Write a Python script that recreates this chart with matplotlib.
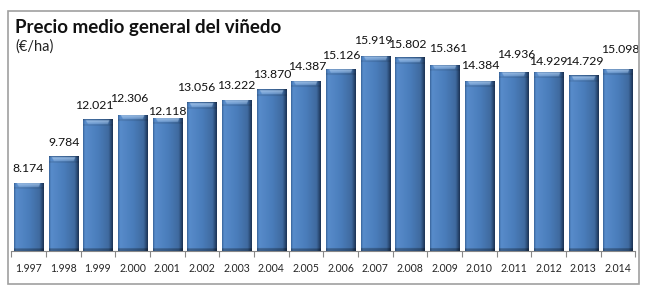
import numpy as np
import matplotlib
matplotlib.use("Agg")
import matplotlib.pyplot as plt
from matplotlib.patches import Rectangle

years = ["1.997", "1.998", "1.999", "2.000", "2.001", "2.002", "2.003", "2.004", "2.005",
         "2.006", "2.007", "2.008", "2.009", "2.010", "2.011", "2.012", "2.013", "2.014"]
precio = [8174, 9784, 12021, 12306, 12118, 13056, 13222, 13870, 14387,
          15126, 15919, 15802, 15361, 14384, 14936, 14929, 14729, 15098]
etiquetas = ["8.174", "9.784", "12.021", "12.306", "12.118", "13.056", "13.222", "13.870", "14.387",
             "15.126", "15.919", "15.802", "15.361", "14.384", "14.936", "14.929", "14.729", "15.098"]

# desplazamiento de las etiquetas (px), como las coloca Excel
lab_dx = [0, 1, -4, -3, 0, -6, 0, 1, 1, 1, -2, -3, 4, 1, 2, 0, 1, 2]
lab_dy = [14, 14, 14, 16, 6, 15, 14, 15, 14, 13, 15, 13, 16, 15, 17, 10, 14, 19]

plt.rcParams['font.family'] = ['Lato', 'DejaVu Sans']

fig = plt.figure(figsize=(6.5, 2.93), dpi=100)
ax = fig.add_axes([11.2 / 650, 42 / 293, 624 / 650, 229.6 / 293])

x = np.arange(len(years))
bars = ax.bar(x, precio, width=0.84, color='#4f81bd', edgecolor='none', zorder=2)
ax.set_xlim(-0.5, len(years) - 0.5)
ax.set_ylim(4000, 18000)

# sombreado tipo bisel
fig.canvas.draw()
px_per_unit = ax.bbox.height / (18000 - 4000)
bevel = 5 / px_per_unit
nx = 60
gx = np.linspace(0, 1, nx)
c_left = np.array([0x3a, 0x66, 0x9c]) / 255
c_mid = np.array([0x58, 0x8c, 0xcb]) / 255
c_body = np.array([0x4a, 0x7d, 0xbb]) / 255
c_right = np.array([0x1c, 0x33, 0x55]) / 255
cols = np.zeros((nx, 3))
for i, g in enumerate(gx):
    if g < 0.06:
        cols[i] = c_left + (c_mid - c_left) * (g / 0.06)
    elif g < 0.5:
        cols[i] = c_mid + (c_body - c_mid) * ((g - 0.06) / 0.44)
    elif g < 0.86:
        cols[i] = c_body + (c_body * 0.85 - c_body) * ((g - 0.5) / 0.36)
    else:
        cols[i] = c_body * 0.85 + (c_right - c_body * 0.85) * ((g - 0.86) / 0.14)
light = np.array([0.72, 0.83, 0.95])
for b in bars:
    x0, w, h = b.get_x(), b.get_width(), b.get_height()
    y0 = 4000
    hh = h - y0
    ny = 400
    yy = np.linspace(0, hh, ny)[:, None] * np.ones((1, nx))  # distancia desde arriba
    gxx = np.ones((ny, 1)) * gx[None, :]
    img = np.ones((ny, 1, 1)) * cols[None, :, :]
    # borde superior oscuro y bisel claro
    rim = yy < bevel * 0.2
    img[rim] = img[rim] * 0.8
    band = (yy >= bevel * 0.2) & (yy < bevel) & (gxx > 0.07 + 0.09 * (yy / bevel)) & \
           (gxx < 0.9 - 0.07 * (yy / bevel))
    t = (yy / bevel)[band]
    img[band] = img[band] * (0.15 + 0.6 * t[:, None]) + light * (0.85 - 0.6 * t[:, None])
    under = (yy >= bevel) & (yy < bevel * 1.3)
    img[under] = img[under] * 0.88
    bottom = yy > hh - bevel * 0.5
    img[bottom] = img[bottom] * 0.7
    img = np.clip(img, 0, 1)
    im = ax.imshow(img, extent=[x0, x0 + w, y0, h], aspect='auto', zorder=3,
                   interpolation='bilinear')
    im.set_clip_path(b)
    b.set_facecolor('none')
ax.set_xlim(-0.5, len(years) - 0.5)
ax.set_ylim(4000, 18000)

for xi, v, t, dx, dy in zip(x, precio, etiquetas, lab_dx, lab_dy):
    ax.annotate(t, (xi, v), xytext=(dx * 0.72, dy * 0.72), textcoords='offset points',
                ha='center', va='center', fontsize=8.8, color='#111111',
                annotation_clip=False)

for s in ['top', 'right', 'left']:
    ax.spines[s].set_visible(False)
ax.spines['bottom'].set_color('#888888')
ax.spines['bottom'].set_linewidth(0.8)
ax.set_yticks([])
ax.set_xticks(np.arange(len(years) + 1) - 0.5, minor=True)
ax.set_xticks(x)
ax.set_xticklabels(years, fontsize=7.6, color='#262626')
ax.tick_params(axis='x', which='major', length=0, pad=9)
ax.tick_params(axis='x', which='minor', length=4, color='#888888', width=0.8)

fig.text(15 / 650, 1 - 33 / 293, "Precio medio general del viñedo", fontsize=13.5,
         fontweight='bold', color='#111111', ha='left', va='baseline')
fig.text(15 / 650, 1 - 47 / 293, "(€/ha)", fontsize=10.5, color='#222222', ha='left', va='center')

fig.patches.append(Rectangle((8 / 650, 9 / 293), 631 / 650, 273 / 293, transform=fig.transFigure,
                             fill=False, edgecolor='#a0a0a0', linewidth=1.2))

fig.savefig('out.png', dpi=100)
